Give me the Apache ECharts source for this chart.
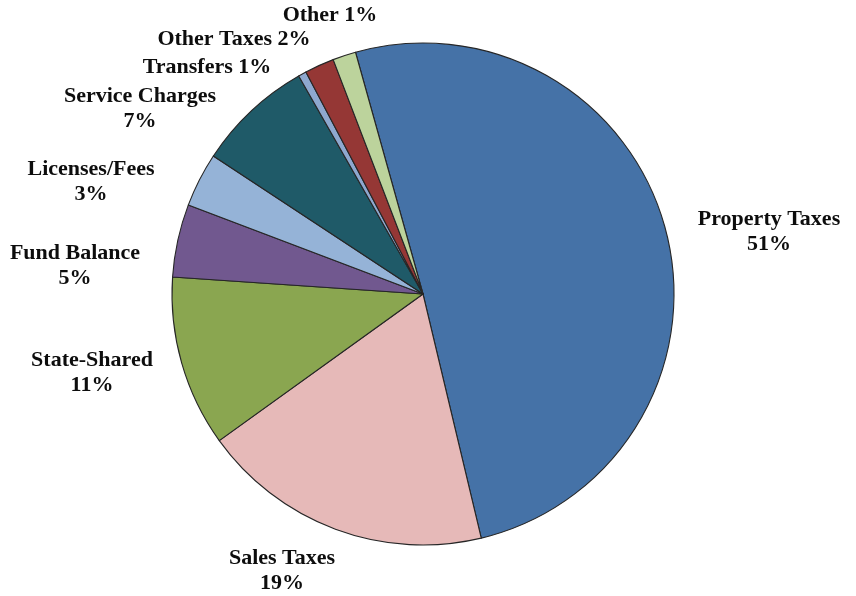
<!DOCTYPE html>
<html>
<head>
<meta charset="utf-8">
<title>General Fund Revenues</title>
<script src="https://cdn.jsdelivr.net/npm/echarts@6/dist/echarts.min.js"></script>
<style>
  html, body { margin: 0; padding: 0; background: #ffffff; }
  #chart { width: 856px; height: 596px; }
</style>
</head>
<body>
<div id="chart"></div>
<script>
// Revenue sources, in drawing order (clockwise from the top)
const categories = [
  'Property Taxes', 'Sales Taxes', 'State-Shared', 'Fund Balance',
  'Licenses/Fees', 'Service Charges', 'Transfers', 'Other Taxes', 'Other'
];
// Share of total revenue, percent
const shares = [50.6, 18.8, 11.0, 4.7, 3.49, 7.49, 0.52, 1.9, 1.49];

// Slice fill colours
const colors = [
  '#4572a7', '#e6b9b8', '#8aa650', '#71588f',
  '#95b3d7', '#1f5a68', '#8ea8cf', '#953735', '#bcd39c'
];
// Labels written on one line (name and percent side by side)
const inlineLabels = ['Transfers', 'Other Taxes', 'Other'];
// Label centres in pixels, same order as categories
const labelCentres = [
  [769, 232], [282, 571], [92, 373], [75, 266],
  [91, 182], [140, 109], [207, 67], [234, 39], [330, 15]
];

const total = shares.reduce((a, b) => a + b, 0);

const chart = echarts.init(document.getElementById('chart'), null, { renderer: 'canvas' });

chart.setOption({
  animation: false,
  backgroundColor: '#ffffff',
  series: [{
    type: 'pie',
    center: [423, 294],
    radius: [0, 251],
    startAngle: 105.6,
    clockwise: true,
    avoidLabelOverlap: false,
    minAngle: 0,
    data: categories.map((name, i) => ({
      name: name,
      value: shares[i],
      itemStyle: { color: colors[i] }
    })),
    itemStyle: {
      borderColor: '#262626',
      borderWidth: 1.1
    },
    label: {
      show: true,
      position: 'outside',
      fontFamily: '"Liberation Serif", "Times New Roman", serif',
      fontWeight: 'bold',
      fontSize: 22,
      lineHeight: 25,
      color: '#0d0d0d',
      align: 'center',
      formatter: function (p) {
        const pct = Math.round(p.value / total * 100) + '%';
        return inlineLabels.indexOf(p.name) >= 0 ? p.name + ' ' + pct : p.name + '\n' + pct;
      }
    },
    labelLine: { show: false },
    labelLayout: function (params) {
      const c = labelCentres[params.dataIndex];
      return { x: c[0], y: c[1], align: 'center', verticalAlign: 'middle' };
    },
    emphasis: { disabled: true }
  }]
});
</script>
</body>
</html>
